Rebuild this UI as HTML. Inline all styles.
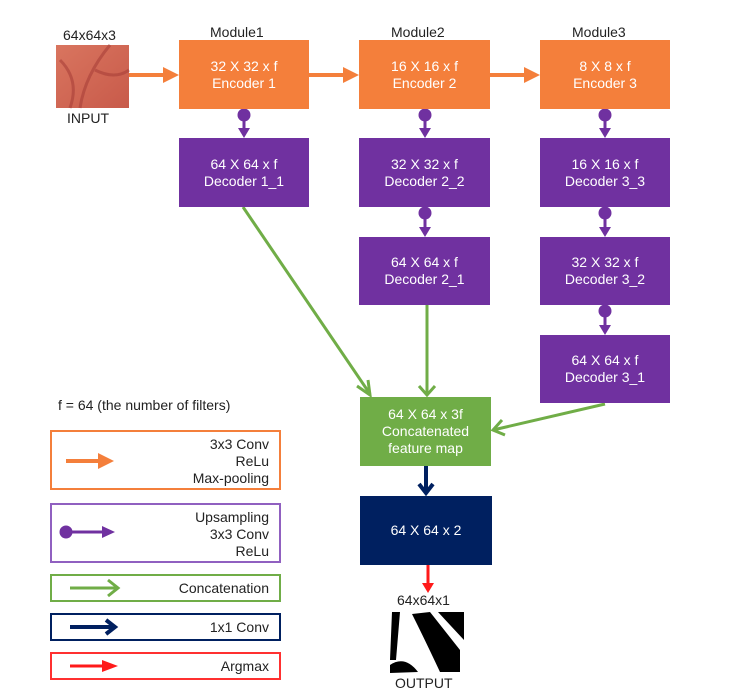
<!DOCTYPE html>
<html><head><meta charset="utf-8"><style>
body{margin:0;background:#fff;}
.w{position:relative;width:747px;height:699px;overflow:hidden;font-family:"Liberation Sans","DejaVu Sans",sans-serif;}
.b{position:absolute;color:#fff;font-size:14px;line-height:17px;display:flex;flex-direction:column;justify-content:center;align-items:center;text-align:center;}
.o{background:#F47F3B}.p{background:#7031A0}.g{background:#70AD47}.n{background:#002060}
.t{position:absolute;font-size:14px;color:#222;}
.lg{position:absolute;left:50px;width:231px;border:2px solid;box-sizing:border-box;}
.lt{position:absolute;right:10px;text-align:right;font-size:14px;line-height:17px;color:#222;}
</style></head><body><div class="w">
<svg width="747" height="699" style="position:absolute;left:0;top:0">
<defs>
<linearGradient id="sk" x1="0" y1="0" x2="1" y2="1"><stop offset="0" stop-color="#d9755f"/><stop offset="1" stop-color="#c85a4a"/></linearGradient>
</defs>
<rect x="56" y="45" width="73" height="63" fill="url(#sk)"/>
<path d="M70 108 Q80 80 60 60 M80 108 Q85 75 110 45 M95 70 Q115 80 129 70" stroke="#a84038" stroke-width="3" fill="none" opacity=".6"/>
<g stroke="#F47F3B" stroke-width="4" fill="#F47F3B">
<line x1="129" y1="75" x2="165" y2="75"/><polygon points="163,67 179,75 163,83" stroke="none"/>
<line x1="309" y1="75" x2="345" y2="75"/><polygon points="343,67 359,75 343,83" stroke="none"/>
<line x1="490" y1="75" x2="526" y2="75"/><polygon points="524,67 540,75 524,83" stroke="none"/>
</g>
<g stroke="#7031A0" stroke-width="3" fill="#7031A0">
<line x1="244" y1="116" x2="244" y2="130"/><circle cx="244" cy="115" r="5"/><polygon points="238,128 244,138 250,128" stroke="none"/>
<line x1="425" y1="116" x2="425" y2="130"/><circle cx="425" cy="115" r="5"/><polygon points="419,128 425,138 431,128" stroke="none"/>
<line x1="425" y1="214" x2="425" y2="229"/><circle cx="425" cy="213" r="5"/><polygon points="419,227 425,237 431,227" stroke="none"/>
<line x1="605" y1="116" x2="605" y2="130"/><circle cx="605" cy="115" r="5"/><polygon points="599,128 605,138 611,128" stroke="none"/>
<line x1="605" y1="214" x2="605" y2="229"/><circle cx="605" cy="213" r="5"/><polygon points="599,227 605,237 611,227" stroke="none"/>
<line x1="605" y1="312" x2="605" y2="327"/><circle cx="605" cy="311" r="5"/><polygon points="599,325 605,335 611,325" stroke="none"/>
</g>
<g stroke="#70AD47" stroke-width="3" fill="none">
<line x1="243" y1="207" x2="370" y2="394"/><polyline points="357,386 370,395 368,380"/>
<line x1="427" y1="305" x2="427" y2="394"/><polyline points="419,386 427,395 435,386"/>
<line x1="605" y1="404" x2="493" y2="430"/><polyline points="502,420 493,430 505,435"/>
</g>
<g stroke="#002060" stroke-width="4" fill="none">
<line x1="426" y1="466" x2="426" y2="492"/><polyline points="419,484 426,493 433,484"/>
<line x1="70" y1="627" x2="114" y2="627"/><polyline points="106,620 115,627 106,634"/>
</g>
<g stroke="#ff1a1a" stroke-width="3" fill="#ff1a1a">
<line x1="428" y1="565" x2="428" y2="585"/><polygon points="422,583 428,593 434,583" stroke="none"/>
<line x1="70" y1="666" x2="104" y2="666"/><polygon points="102,660 118,666 102,672" stroke="none"/>
</g>
<g stroke="#F47F3B" stroke-width="4" fill="#F47F3B"><line x1="66" y1="461" x2="100" y2="461"/><polygon points="98,453 114,461 98,469" stroke="none"/></g>
<g stroke="#7031A0" stroke-width="3" fill="#7031A0"><line x1="66" y1="532" x2="104" y2="532"/><circle cx="66" cy="532" r="5"/><polygon points="102,526 115,532 102,538" stroke="none"/></g>
<g stroke="#70AD47" stroke-width="3" fill="none"><line x1="70" y1="588" x2="117" y2="588"/><polyline points="108,580 118,588 108,596"/></g>
<rect x="390" y="610" width="74" height="63" fill="#fff"/>
<path d="M392 612 L400 612 L396 660 L390 660Z M412 614 L430 612 L460 650 L460 672 L440 672 Q425 640 412 614Z M438 612 L464 612 L464 640 Q450 625 438 612Z M390 673 L390 665 Q405 655 418 672Z" fill="#000"/>
</svg>
<div class="t" style="left:63px;top:27px">64x64x3</div>
<div class="t" style="left:67px;top:110px">INPUT</div>
<div class="t" style="left:210px;top:24px">Module1</div>
<div class="t" style="left:391px;top:24px">Module2</div>
<div class="t" style="left:572px;top:24px">Module3</div>
<div class="b o" style="left:179px;top:40px;width:130px;height:69px">32 X 32 x f<br>Encoder 1</div>
<div class="b o" style="left:359px;top:40px;width:131px;height:69px">16 X 16 x f<br>Encoder 2</div>
<div class="b o" style="left:540px;top:40px;width:130px;height:69px">8 X 8 x f<br>Encoder 3</div>
<div class="b p" style="left:179px;top:138px;width:130px;height:69px">64 X 64 x f<br>Decoder 1_1</div>
<div class="b p" style="left:359px;top:138px;width:131px;height:69px">32 X 32 x f<br>Decoder 2_2</div>
<div class="b p" style="left:359px;top:237px;width:131px;height:68px">64 X 64 x f<br>Decoder 2_1</div>
<div class="b p" style="left:540px;top:138px;width:130px;height:69px">16 X 16 x f<br>Decoder 3_3</div>
<div class="b p" style="left:540px;top:237px;width:130px;height:68px">32 X 32 x f<br>Decoder 3_2</div>
<div class="b p" style="left:540px;top:335px;width:130px;height:68px">64 X 64 x f<br>Decoder 3_1</div>
<div class="b g" style="left:360px;top:397px;width:131px;height:69px">64 X 64 x 3f<br>Concatenated<br>feature map</div>
<div class="b n" style="left:360px;top:496px;width:132px;height:69px">64 X 64 x 2</div>
<div class="t" style="left:397px;top:592px">64x64x1</div>
<div class="t" style="left:395px;top:675px">OUTPUT</div>
<div class="t" style="left:58px;top:397px">f = 64 (the number of filters)</div>
<div class="lg" style="top:430px;height:60px;border-color:#F47F3B"><div class="lt" style="top:4px">3x3 Conv<br>ReLu<br>Max-pooling</div></div>
<div class="lg" style="top:503px;height:60px;border-color:#9060C0"><div class="lt" style="top:4px">Upsampling<br>3x3 Conv<br>ReLu</div></div>
<div class="lg" style="top:574px;height:28px;border-color:#70AD47"><div class="lt" style="top:4px">Concatenation</div></div>
<div class="lg" style="top:613px;height:28px;border-color:#002060"><div class="lt" style="top:4px">1x1 Conv</div></div>
<div class="lg" style="top:652px;height:28px;border-color:#ff3030"><div class="lt" style="top:4px">Argmax</div></div>
</div></body></html>
